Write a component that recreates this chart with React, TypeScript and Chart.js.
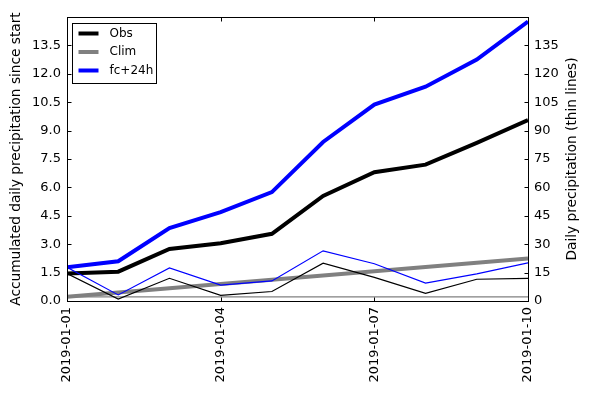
import React, { useEffect, useRef } from "react";
import { Chart, registerables } from "chart.js";

Chart.register(...registerables);

const dates = [
  "2019-01-01", "2019-01-02", "2019-01-03", "2019-01-04", "2019-01-05",
  "2019-01-06", "2019-01-07", "2019-01-08", "2019-01-09", "2019-01-10",
];
const obsAccum = [1.45, 1.55, 2.75, 3.05, 3.55, 5.55, 6.8, 7.2, 8.35, 9.55];
const climAccum = [0.22, 0.45, 0.67, 0.9, 1.12, 1.35, 1.57, 1.8, 2.02, 2.25];
const fcAccum = [1.78, 2.1, 3.85, 4.69, 5.75, 8.4, 10.37, 11.32, 12.75, 14.76];
const obsDaily = [14.5, 1.0, 12.0, 3.0, 5.0, 20.0, 12.5, 4.0, 11.5, 12.0];
const climDaily = [2.2, 2.2, 2.2, 2.2, 2.2, 2.2, 2.2, 2.2, 2.2, 2.2];
const fcDaily = [17.8, 3.2, 17.5, 8.4, 10.6, 26.5, 19.7, 9.5, 14.3, 20.1];
const leftTicks = [0, 1.5, 3, 4.5, 6, 7.5, 9, 10.5, 12, 13.5];
const rightTicks = [0, 15, 30, 45, 60, 75, 90, 105, 120, 135];
const leftTitle = "Accumulated daily precipitation since start";
const rightTitle = "Daily precipitation (thin lines)";

const FONT = "'DejaVu Sans', sans-serif";

const pts = (arr: number[]) => arr.map((v, i) => ({ x: i, y: v }));

const framePlugin = {
  id: "frame",
  afterDraw(chart: any) {
    const { ctx, chartArea: a } = chart;
    ctx.save();
    ctx.strokeStyle = "#000";
    ctx.lineWidth = 1;
    const L = Math.round(a.left) + 0.5;
    const R = Math.round(a.right) + 0.5;
    const T = Math.round(a.top) + 0.5;
    const B = Math.round(a.bottom) + 0.5;
    ctx.strokeRect(L, T, R - L, B - T);
    const tl = 4;
    ctx.beginPath();
    const y = chart.scales.y;
    y.ticks.forEach((t: any) => {
      const p = Math.round(y.getPixelForValue(t.value)) + 0.5;
      ctx.moveTo(L, p);
      ctx.lineTo(L + tl, p);
    });
    const y1 = chart.scales.y1;
    y1.ticks.forEach((t: any) => {
      const p = Math.round(y1.getPixelForValue(t.value)) + 0.5;
      ctx.moveTo(R, p);
      ctx.lineTo(R - tl, p);
    });
    const x = chart.scales.x;
    x.ticks.forEach((t: any) => {
      const p = Math.round(x.getPixelForValue(t.value)) + 0.5;
      ctx.moveTo(p, B);
      ctx.lineTo(p, B - tl);
      ctx.moveTo(p, T);
      ctx.lineTo(p, T + tl);
    });
    ctx.stroke();

    // axis titles (both read bottom-to-top)
    const midY = (a.top + a.bottom) / 2;
    ctx.fillStyle = "#000";
    ctx.font = `13.7px ${FONT}`;
    ctx.textAlign = "center";
    ctx.textBaseline = "middle";
    ctx.save();
    ctx.translate(16, midY);
    ctx.rotate(-Math.PI / 2);
    ctx.fillText(leftTitle, 0, 0);
    ctx.restore();
    ctx.save();
    ctx.translate(572, midY);
    ctx.rotate(-Math.PI / 2);
    ctx.fillText(rightTitle, 0, 0);
    ctx.restore();

    // legend
    const items = chart.data.datasets.filter((d: any) => d.showInLegend);
    const bx = Math.round(a.left) + 5.5;
    const by = Math.round(a.top) + 6.5;
    const bw = 84;
    const bh = 60;
    ctx.fillStyle = "#fff";
    ctx.fillRect(bx, by, bw, bh);
    ctx.strokeStyle = "#000";
    ctx.lineWidth = 1;
    ctx.strokeRect(bx, by, bw, bh);
    ctx.font = `12px ${FONT}`;
    ctx.textAlign = "left";
    ctx.textBaseline = "middle";
    items.forEach((d: any, i: number) => {
      const cy = by + 10 + i * 18.5;
      ctx.strokeStyle = d.borderColor;
      ctx.lineWidth = 4;
      ctx.beginPath();
      ctx.moveTo(bx + 6, cy);
      ctx.lineTo(bx + 26, cy);
      ctx.stroke();
      ctx.fillStyle = "#000";
      ctx.fillText(d.label, bx + 37, cy);
    });
    ctx.restore();
  },
};

export default function App() {
  const ref = useRef<HTMLCanvasElement>(null);
  useEffect(() => {
    document.body.style.margin = "0";
    const chart = new Chart(ref.current!, {
      type: "line",
      data: {
        datasets: [
          { label: "Obs daily", data: pts(obsDaily), yAxisID: "y1", borderColor: "#000", borderWidth: 1.2, pointRadius: 0, order: 1 },
          { label: "Clim daily", data: pts(climDaily), yAxisID: "y1", borderColor: "#808080", borderWidth: 1.2, pointRadius: 0, order: 1 },
          { label: "fc+24h daily", data: pts(fcDaily), yAxisID: "y1", borderColor: "#0000ff", borderWidth: 1.2, pointRadius: 0, order: 1 },
          { label: "Obs", data: pts(obsAccum), yAxisID: "y", borderColor: "#000", borderWidth: 4, pointRadius: 0, showInLegend: true, order: 2 } as any,
          { label: "Clim", data: pts(climAccum), yAxisID: "y", borderColor: "#808080", borderWidth: 4, pointRadius: 0, showInLegend: true, order: 2 } as any,
          { label: "fc+24h", data: pts(fcAccum), yAxisID: "y", borderColor: "#0000ff", borderWidth: 4, pointRadius: 0, showInLegend: true, order: 2 } as any,
        ],
      },
      options: {
        animation: false,
        responsive: false,
        layout: { padding: { top: 17, left: 0, right: 0, bottom: 0 } },
        plugins: { legend: { display: false }, tooltip: { enabled: false } },
        scales: {
          x: {
            type: "linear",
            min: 0,
            max: dates.length - 1,
            grid: { display: false, drawTicks: false },
            border: { display: false },
            afterBuildTicks: (s: any) => {
              s.ticks = [0, 3, 6, 9].map((v) => ({ value: v }));
            },
            ticks: {
              autoSkip: false,
              maxRotation: 90,
              minRotation: 90,
              padding: 6,
              color: "#000",
              font: { family: FONT, size: 13 },
              callback: (v: any) => dates[v] ?? "",
            },
            afterFit: (s: any) => { s.height = 96; },
          },
          y: {
            position: "left",
            min: 0,
            max: 15,
            grid: { display: false, drawTicks: false },
            border: { display: false },
            afterBuildTicks: (s: any) => { s.ticks = leftTicks.map((v) => ({ value: v })); },
            ticks: {
              padding: 6,
              color: "#000",
              font: { family: FONT, size: 13 },
              callback: (v: any) => Number(v).toFixed(1),
            },
            afterFit: (s: any) => { s.width = 67; },
          },
          y1: {
            position: "right",
            min: 0,
            max: 150,
            grid: { display: false, drawTicks: false },
            border: { display: false },
            afterBuildTicks: (s: any) => { s.ticks = rightTicks.map((v) => ({ value: v })); },
            ticks: {
              padding: 6,
              color: "#000",
              font: { family: FONT, size: 13 },
              callback: (v: any) => String(v),
            },
            afterFit: (s: any) => { s.width = 62; },
          },
        },
      },
      plugins: [framePlugin],
    });
    return () => chart.destroy();
  }, []);
  return (
    <div style={{ width: 590, height: 397, background: "#fff" }}>
      <canvas ref={ref} width={590} height={397} style={{ width: 590, height: 397, display: "block" }} />
    </div>
  );
}
